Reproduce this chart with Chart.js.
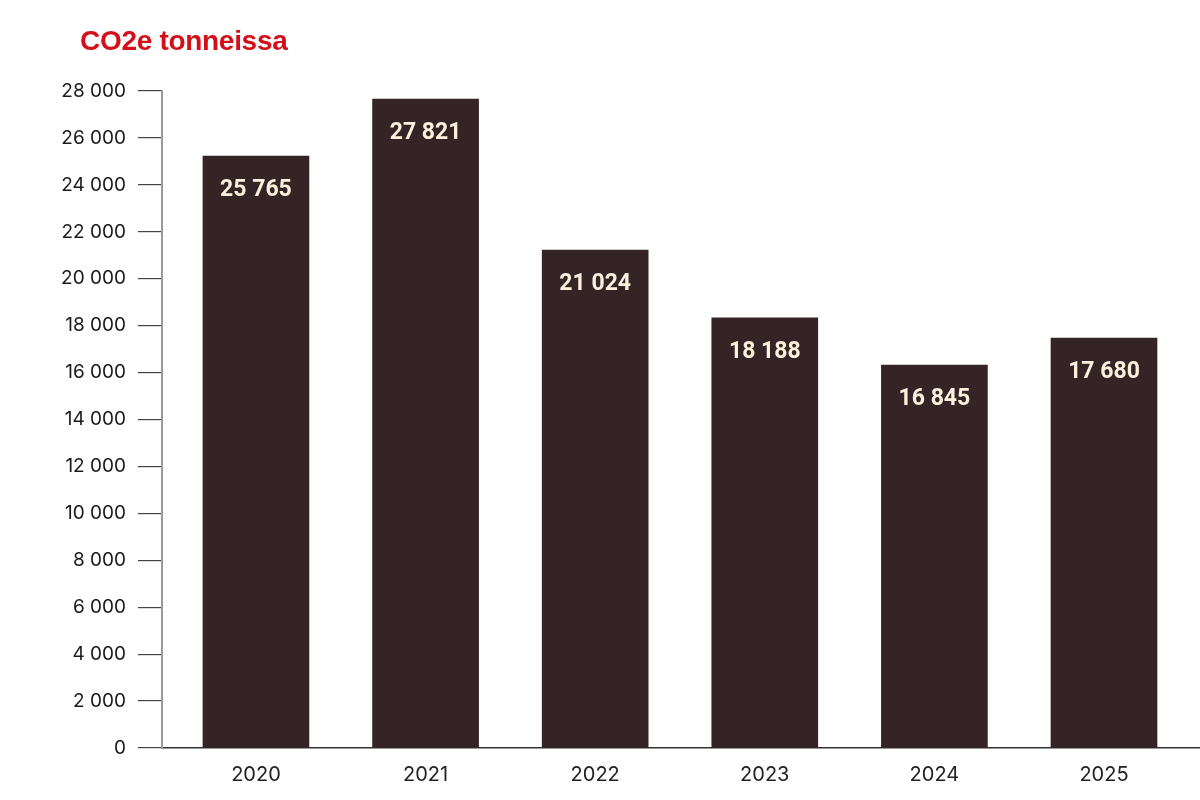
<!DOCTYPE html>
<html>
<head>
<meta charset="utf-8">
<script src="https://cdn.jsdelivr.net/npm/chart.js@4.4.1/dist/chart.umd.min.js"></script>
<style>
  html, body { margin: 0; padding: 0; background: #ffffff; }
  #wrap { position: relative; width: 1200px; height: 800px; }
  #title {
    position: absolute; left: 80px; top: 24px; margin: 0;
    font-family: "Liberation Sans", Arial, sans-serif; font-weight: bold;
    font-size: 28px; line-height: 34px; color: #d3101a; letter-spacing: -0.3px;
  }
</style>
</head>
<body>
<div id="wrap">
  <h1 id="title">CO2e tonneissa</h1>
  <canvas id="co2Chart" width="1200" height="800"></canvas>
</div>
<script>
// vuodet ja arvot (pylväiden korkeudet luettu kuvasta, tekstit pylväistä)
var years = [2020, 2021, 2022, 2023, 2024, 2025];
var barValues = [25230, 27660, 21220, 18330, 16320, 17470];
var labelValues = [25765, 27821, 21024, 18188, 16845, 17680];
var yTicks = [0, 2000, 4000, 6000, 8000, 10000, 12000, 14000, 16000, 18000, 20000, 22000, 24000, 26000, 28000];

function fmt(n) {
  return String(n).replace(/\B(?=(\d{3})+(?!\d))/g, " ");
}

// numerot pylväiden sisään
var barLabels = {
  id: "barLabels",
  afterDatasetsDraw: function (chart) {
    var ctx = chart.ctx;
    var meta = chart.getDatasetMeta(0);
    ctx.save();
    ctx.font = "bold 23px Roboto";
    ctx.fillStyle = "#fbf1dc";
    ctx.textAlign = "center";
    ctx.textBaseline = "middle";
    meta.data.forEach(function (bar, i) {
      ctx.fillText(fmt(labelValues[i]), bar.x, bar.y + 34);
    });
    ctx.restore();
  },
};

var ctx = document.getElementById("co2Chart").getContext("2d");
var myChart = new Chart(ctx, {
  type: "bar",
  data: {
    datasets: [
      {
        data: years.map(function (y, i) {
          return { x: y, y: barValues[i] };
        }),
        backgroundColor: "#342426",
        borderWidth: 0,
        barThickness: 106,
      },
    ],
  },
  options: {
    responsive: false,
    animation: false,
    layout: { padding: { left: 0, right: 0, top: 91, bottom: 13 } },
    plugins: {
      legend: { display: false },
      tooltip: { enabled: false },
      title: { display: false },
    },
    scales: {
      x: {
        type: "linear",
        offset: false,
        min: 2019.446,
        max: 2025.566,
        afterFit: function (scale) {
          scale.height = 39;
        },
        grid: { display: false, drawTicks: false },
        border: { display: true, color: "#333333", width: 1.5 },
        ticks: {
          stepSize: 1,
          includeBounds: false,
          padding: 15,
          color: "#222222",
          font: { family: "Inter", size: 20 },
          callback: function (v) {
            return String(v);
          },
        },
      },
      y: {
        min: 0,
        max: 28000,
        afterFit: function (scale) {
          scale.width = 162;
        },
        afterBuildTicks: function (scale) {
          scale.ticks = yTicks.map(function (v) {
            return { value: v };
          });
        },
        grid: {
          drawOnChartArea: false,
          drawTicks: true,
          tickLength: 24,
          color: "#444444",
          lineWidth: 1.2,
        },
        border: { display: true, color: "#9a9a9a", width: 2 },
        ticks: {
          padding: 12,
          color: "#1a1a1a",
          font: { family: "Inter", size: 19 },
          callback: function (v) {
            return fmt(v);
          },
        },
      },
    },
  },
  plugins: [barLabels],
});
</script>
</body>
</html>
